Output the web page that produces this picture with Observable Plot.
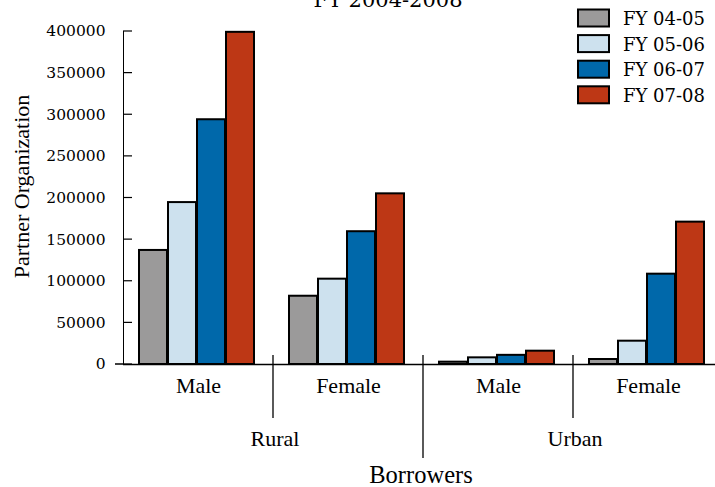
<!DOCTYPE html>
<html>
<head>
<meta charset="utf-8">
<script src="https://cdn.jsdelivr.net/npm/d3@7"></script>
<script src="https://cdn.jsdelivr.net/npm/@observablehq/plot@0.6"></script>
<style>
  html, body { margin: 0; padding: 0; background: white; overflow: hidden; }
  svg { max-width: none !important; }
  svg text { font-family: "DejaVu Serif", serif; fill: black; }
  [aria-label^="y-axis"] text { font: 15.5px "DejaVu Serif", serif; }
  [aria-label^="fx-axis"] text { font: 22px "Liberation Serif", serif; }
</style>
</head>
<body>
<div id="chart"></div>
<script>
// Borrowers by area and gender, FY 2004-2008
const areas = ["Rural", "Rural", "Urban", "Urban"];
const genders = ["Male", "Female", "Male", "Female"];
const years = ["FY 04-05", "FY 05-06", "FY 06-07", "FY 07-08"];
const fy0405 = [137000, 82000, 2800, 6000];
const fy0506 = [194500, 102500, 8000, 28000];
const fy0607 = [294000, 159500, 11000, 108500];
const fy0708 = [399000, 205000, 16000, 171000];
const yTicks = [0, 50000, 100000, 150000, 200000, 250000, 300000, 350000, 400000];
const colors = ["#9b9a9a", "#cde1ee", "#0068aa", "#bd3715"];

const series = [fy0405, fy0506, fy0607, fy0708];
const groupKeys = areas.map((a, i) => a + " " + genders[i]);
const rows = [];
groupKeys.forEach((g, i) => {
  years.forEach((yr, j) => rows.push({group: g, year: yr, value: series[j][i]}));
});

const chart = Plot.plot({
  width: 715,
  height: 487,
  marginLeft: 123,
  marginRight: -8,
  marginTop: 31,
  marginBottom: 123,
  style: {background: "white", color: "black"},
  facet: {data: rows, x: "group"},
  fx: {domain: groupKeys, padding: 0, label: null, tickSize: 0, tickPadding: 13,
       tickFormat: k => k.split(" ")[1]},
  x: {domain: years, paddingInner: 0.035, paddingOuter: 0.58, align: 0.47, axis: null},
  y: {domain: [0, 400000], ticks: yTicks, tickSize: 0, tickPadding: 18,
      tickFormat: d3.format("d"), label: null, line: true},
  color: {domain: years, range: colors},
  marks: [
    Plot.barY(rows, {x: "year", y: "value", fill: "year", stroke: "black", strokeWidth: 2}),
    Plot.ruleY([0], {stroke: "black", strokeWidth: 1.5})
  ]
});
document.getElementById("chart").appendChild(chart);

// Extra annotation layer using the plot's own scales
const svg = d3.select(chart);
const fx = chart.scale("fx");
const y = chart.scale("y");
const color = chart.scale("color");
const fxPos = k => fx.apply ? fx.apply(k) : fx.range[0] + fx.domain.indexOf(k) * (fx.step || fx.bandwidth);
const band = fx.bandwidth;
const yPos = v => y.apply(v);
const axisX = fxPos(groupKeys[0]);
const layer = svg.append("g").attr("text-anchor", "start");

// inward tick marks on the value axis
layer.selectAll("line.tick").data(yTicks).join("line")
  .attr("x1", axisX).attr("x2", axisX + 9)
  .attr("y1", d => yPos(d)).attr("y2", d => yPos(d))
  .attr("stroke", "black").attr("stroke-width", 1.2);
layer.append("line")
  .attr("x1", axisX - 8).attr("x2", axisX)
  .attr("y1", yPos(0)).attr("y2", yPos(0))
  .attr("stroke", "black").attr("stroke-width", 1.5);

// separators between categories and area groups
const base = yPos(0);
groupKeys.slice(1).forEach((k, i) => {
  const x = fxPos(k);
  const long = areas[i] !== areas[i + 1];
  layer.append("line")
    .attr("x1", x).attr("x2", x)
    .attr("y1", base - 9).attr("y2", long ? base + 94 : base + 54)
    .attr("stroke", "black").attr("stroke-width", 1.3);
});

// area labels centred under each pair of categories
const areaNames = Array.from(new Set(areas));
areaNames.forEach(a => {
  const ks = groupKeys.filter((k, i) => areas[i] === a);
  const cx = (fxPos(ks[0]) + fxPos(ks[ks.length - 1]) + band) / 2;
  layer.append("text").attr("x", cx + 2).attr("y", base + 82)
    .attr("text-anchor", "middle")
    .style("font", "22px 'Liberation Serif', serif").text(a);
});

// outer axis title
const left = fxPos(groupKeys[0]);
const right = fxPos(groupKeys[groupKeys.length - 1]) + band;
layer.append("text").attr("x", (left + right) / 2 - 2).attr("y", base + 119)
  .attr("text-anchor", "middle")
  .style("font", "24.5px 'Liberation Serif', serif").text("Borrowers");

// value axis title
layer.append("text")
  .attr("transform", `translate(29,${(yPos(0) + yPos(400000)) / 2 - 11}) rotate(-90)`)
  .attr("text-anchor", "middle")
  .style("font", "22px 'Liberation Serif', serif").text("Partner Organization");

// chart title, sitting against the top edge
layer.append("text").attr("x", 388).attr("y", 7)
  .attr("text-anchor", "middle")
  .style("font", "21px 'DejaVu Serif', serif").text("FY 2004-2008");

// legend
const leg = layer.append("g");
color.domain.forEach((d, i) => {
  const g = leg.append("g").attr("transform", `translate(578,${9.5 + i * 25.6})`);
  g.append("rect").attr("width", 31).attr("height", 17)
    .attr("fill", color.apply ? color.apply(d) : color.range[i])
    .attr("stroke", "black").attr("stroke-width", 2);
  g.append("text").attr("x", 45).attr("y", 15.5)
    .attr("text-anchor", "start")
    .style("font", "18px 'DejaVu Serif', serif").text(d);
});
</script>
</body>
</html>
